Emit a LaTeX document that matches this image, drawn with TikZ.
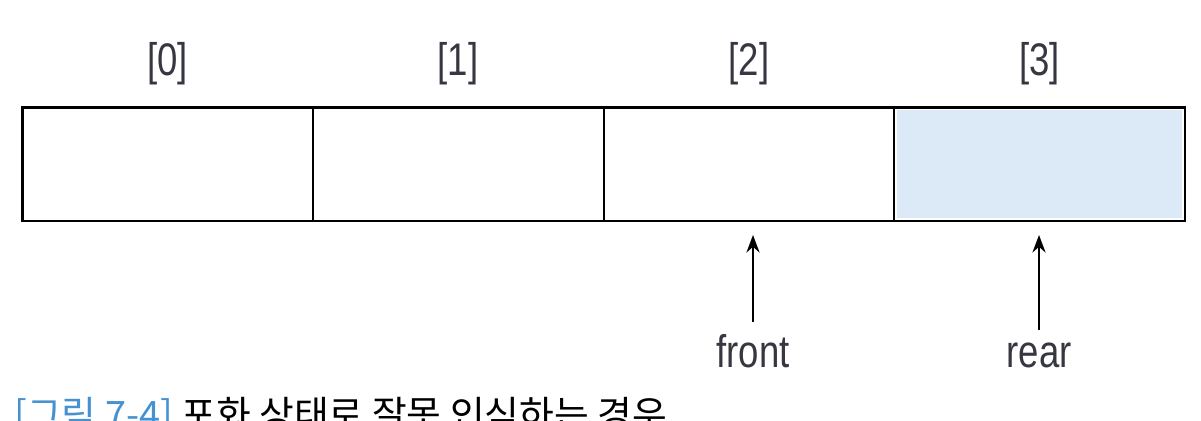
\documentclass[tikz,border=0pt]{standalone}
\usepackage{fontspec}
\setmainfont{Liberation Sans}[FakeStretch=0.8]
\newfontfamily\krfont{Noto Sans CJK KR}
\usepackage{tikz}
\usetikzlibrary{positioning}
\usetikzlibrary{arrows.meta}

\definecolor{cellblue}{RGB}{220,234,248}
\definecolor{capblue}{RGB}{70,145,210}
\definecolor{labelgray}{RGB}{55,55,65}

\begin{document}
\begin{tikzpicture}[x=0.02cm,y=-0.02cm,
		cell/.style={draw,line width=1.1pt,minimum width=5.815cm,minimum height=2.28cm,inner sep=0pt,outer sep=0pt},
		idx/.style={text=labelgray,inner sep=0pt,font=\fontsize{26}{30}\selectfont},
		ptr/.style={text=labelgray,inner sep=0pt,font=\fontsize{26}{30}\selectfont},
		ptrarrow/.style={-{Stealth[length=10pt,width=7.5pt]},line width=1pt,shorten <=0.24cm,shorten >=0.28cm}]
		\useasboundingbox (0,0) rectangle (1201,420);
		\clip (0,0) rectangle (1201,420);
		% array cells and their indices
		\foreach \i in {0,...,3} {
			\node[cell] (c\i) at (167.4+\i*290.75,164) {};
			\node[idx,above=0.44cm of c\i] (i\i) {[\i]};
		}
		\fill[cellblue] ([shift={(3,3)}]c3.north west) rectangle ([shift={(-3,-3)}]c3.south east);
		\draw[line width=1.7pt] (c0.north west) rectangle (c3.south east);
		% pointers
		\node[ptr,anchor=base] (front) at (753,367) {front};
		\node[ptr,anchor=base] (rear) at (1039,367) {rear};
		\draw[ptrarrow] (front.north) -- (front.north |- c2.south);
		\draw[ptrarrow] (rear.north) -- (rear.north |- c3.south);
		% caption (cut at the lower edge, as in the figure)
		\node[anchor=north west,inner sep=0pt,font=\fontsize{21.5}{25}\selectfont] (cap) at (14,397)
			{\krfont\textcolor{capblue}{[그림 7-4]} 포화 상태로 잘못 인식하는 경우};
\end{tikzpicture}
\end{document}
